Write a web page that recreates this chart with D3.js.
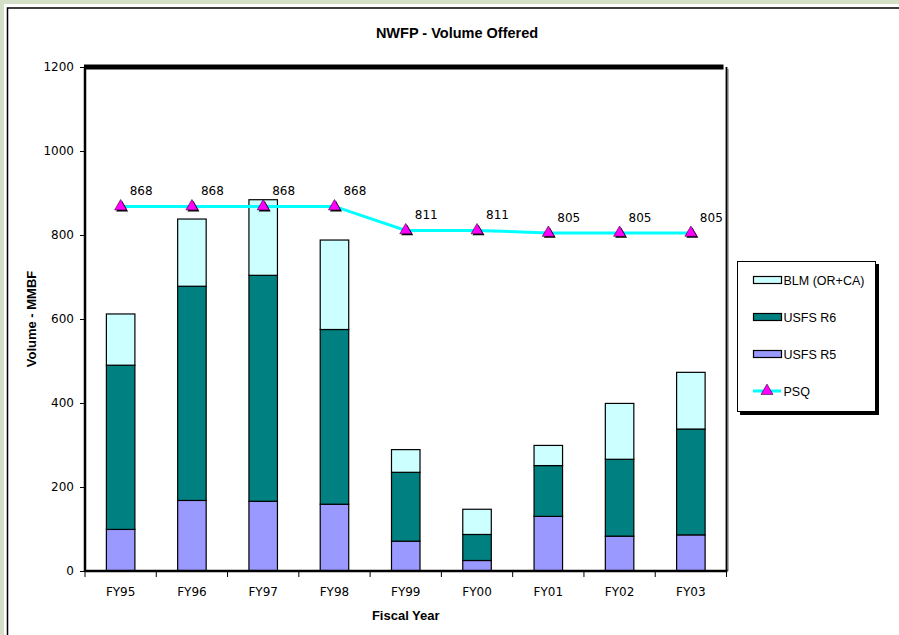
<!DOCTYPE html>
<html>
<head>
<meta charset="utf-8">
<script src="https://cdn.jsdelivr.net/npm/d3@7"></script>
<style>
  body { margin: 0; padding: 0; background: #d3dfc6; }
  svg { display: block; }
</style>
</head>
<body>
<script>
// data
const years = ["FY95", "FY96", "FY97", "FY98", "FY99", "FY00", "FY01", "FY02", "FY03"];
const usfsR5 = [99, 168, 166, 159, 71, 25, 130, 83, 86];
const usfsR6 = [391, 510, 538, 416, 164, 62, 121, 183, 252];
const blm = [122, 160, 180, 213, 54, 60, 48, 133, 135];
const psq = [868, 868, 868, 868, 811, 811, 805, 805, 805];
const yTicks = [0, 200, 400, 600, 800, 1000, 1200];

const seriesNames = ["USFS R5", "USFS R6", "BLM (OR+CA)"];
const colors = { "USFS R5": "#9999ff", "USFS R6": "#008080", "BLM (OR+CA)": "#ccffff" };

const width = 899, height = 635;
const plotL = 85, plotR = 726.5, plotT = 67, plotB = 571;

const table = years.map((y, i) => ({
  year: y, "USFS R5": usfsR5[i], "USFS R6": usfsR6[i], "BLM (OR+CA)": blm[i], psq: psq[i]
}));
const stacked = d3.stack().keys(seriesNames)(table);

const x = d3.scaleBand().domain(years).range([plotL, plotR]);
const y = d3.scaleLinear().domain([0, 1200]).range([plotB, plotT]);
const barW = x.bandwidth() * 0.4;

const svg = d3.select("body").append("svg")
  .attr("width", width).attr("height", height);

// chart frame
svg.append("rect").attr("x", 4).attr("y", 4).attr("width", width).attr("height", height)
  .attr("fill", "#fff");
svg.append("rect").attr("x", 7.5).attr("y", 8).attr("width", width).attr("height", height)
  .attr("fill", "#fff").attr("stroke", "#000").attr("stroke-width", 1.5);

// title
svg.append("text").attr("x", 457).attr("y", 38).attr("text-anchor", "middle")
  .attr("font-family", "Liberation Sans, Arial, sans-serif").attr("font-weight", "bold")
  .attr("font-size", 14.5).text("NWFP - Volume Offered");

// plot area border (right side with a gray shadow)
svg.append("line").attr("x1", plotR + 1.5).attr("x2", plotR + 1.5).attr("y1", plotT + 2).attr("y2", plotB)
  .attr("stroke", "#999").attr("stroke-width", 1.5);
svg.append("line").attr("x1", plotR).attr("x2", plotR).attr("y1", plotT).attr("y2", plotB)
  .attr("stroke", "#000").attr("stroke-width", 1.8);

// bars
const layer = svg.append("g").selectAll("g").data(stacked).join("g")
  .attr("fill", d => colors[d.key]);
layer.selectAll("rect").data(d => d).join("rect")
  .attr("x", d => x(d.data.year) + (x.bandwidth() - barW) / 2)
  .attr("width", barW)
  .attr("y", d => y(d[1]))
  .attr("height", d => y(d[0]) - y(d[1]))
  .attr("stroke", "#000").attr("stroke-width", 1.2);

// axes
const yAxis = svg.append("g").attr("transform", `translate(${plotL},0)`)
  .call(d3.axisLeft(y).tickValues(yTicks).tickSize(5).tickPadding(6).tickFormat(d3.format("d")));
yAxis.select(".domain").remove();
yAxis.selectAll("text").attr("font-family", "DejaVu Sans, Verdana, sans-serif").attr("font-size", 12).attr("fill", "#000");

const xAxis = svg.append("g").attr("transform", `translate(0,${plotB})`)
  .call(d3.axisBottom(x).tickSize(0).tickPadding(16));
xAxis.select(".domain").remove();
xAxis.selectAll("text").attr("font-family", "DejaVu Sans, Verdana, sans-serif").attr("font-size", 12).attr("fill", "#000");
// category separators
svg.append("g").selectAll("line").data(years.concat(["end"])).join("line")
  .attr("x1", (d, i) => plotL + i * x.step()).attr("x2", (d, i) => plotL + i * x.step())
  .attr("y1", plotB).attr("y2", plotB + 6)
  .attr("stroke", "#000").attr("stroke-width", 1);

svg.append("line").attr("x1", plotL).attr("x2", plotR + 1).attr("y1", plotB).attr("y2", plotB)
  .attr("stroke", "#000").attr("stroke-width", 2.5);
svg.append("line").attr("x1", plotL).attr("x2", plotL).attr("y1", plotT).attr("y2", plotB + 1)
  .attr("stroke", "#000").attr("stroke-width", 2.5);
svg.append("line").attr("x1", plotL - 1).attr("x2", plotR - 3).attr("y1", plotT).attr("y2", plotT)
  .attr("stroke", "#000").attr("stroke-width", 5);

// axis titles
svg.append("text").attr("transform", `translate(36,${(plotT + plotB) / 2}) rotate(-90)`)
  .attr("text-anchor", "middle").attr("font-family", "Liberation Sans, Arial, sans-serif")
  .attr("font-weight", "bold").attr("font-size", 13).text("Volume - MMBF");
svg.append("text").attr("x", (plotL + plotR) / 2).attr("y", 620).attr("text-anchor", "middle")
  .attr("font-family", "Liberation Sans, Arial, sans-serif")
  .attr("font-weight", "bold").attr("font-size", 13).text("Fiscal Year");

// PSQ line
const cx = d => x(d.year) + x.bandwidth() / 2;
svg.append("path").datum(table)
  .attr("fill", "none").attr("stroke", "#00ffff").attr("stroke-width", 3)
  .attr("d", d3.line().x(cx).y(d => y(d.psq)));

const tri = d3.symbol().type(d3.symbolTriangle).size(62);
const marks = svg.append("g").selectAll("g").data(table).join("g")
  .attr("transform", d => `translate(${cx(d)},${y(d.psq)})`);
marks.append("path").attr("d", tri).attr("transform", "translate(1.5,1.5)").attr("fill", "#000");
marks.append("path").attr("d", tri).attr("fill", "#ff00ff").attr("stroke", "#330033").attr("stroke-width", 0.6);

svg.append("g").selectAll("text").data(table).join("text")
  .attr("x", d => cx(d) + 9).attr("y", d => y(d.psq) - 11)
  .attr("font-family", "DejaVu Sans, Verdana, sans-serif").attr("font-size", 12)
  .text(d => d.psq);

// legend
const lg = svg.append("g").attr("transform", "translate(737,261)");
lg.append("rect").attr("x", 3).attr("y", 3).attr("width", 139).attr("height", 151).attr("fill", "#000");
lg.append("rect").attr("x", 0.5).attr("y", 0.5).attr("width", 138).attr("height", 150)
  .attr("fill", "#fff").attr("stroke", "#000").attr("stroke-width", 1);
const legendItems = ["BLM (OR+CA)", "USFS R6", "USFS R5", "PSQ"];
const li = lg.selectAll("g.item").data(legendItems).join("g")
  .attr("transform", (d, i) => `translate(0,${19 + i * 37})`);
li.filter(d => d !== "PSQ").append("rect")
  .attr("x", 16.5).attr("y", -3.5).attr("width", 28).attr("height", 7)
  .attr("fill", d => colors[d]).attr("stroke", "#000").attr("stroke-width", 1.2);
const psqItem = li.filter(d => d === "PSQ");
psqItem.append("line").attr("x1", 16).attr("x2", 44).attr("y1", 0).attr("y2", 0)
  .attr("stroke", "#00ffff").attr("stroke-width", 3);
psqItem.append("path").attr("d", tri).attr("fill", "#ff00ff").attr("stroke", "#330033")
  .attr("stroke-width", 0.6).attr("transform", "translate(30,0)");
li.append("text").attr("x", 46.5).attr("y", 4.5)
  .attr("font-family", "Liberation Sans, Arial, sans-serif").attr("font-size", 12.5)
  .text(d => d);
</script>
</body>
</html>
